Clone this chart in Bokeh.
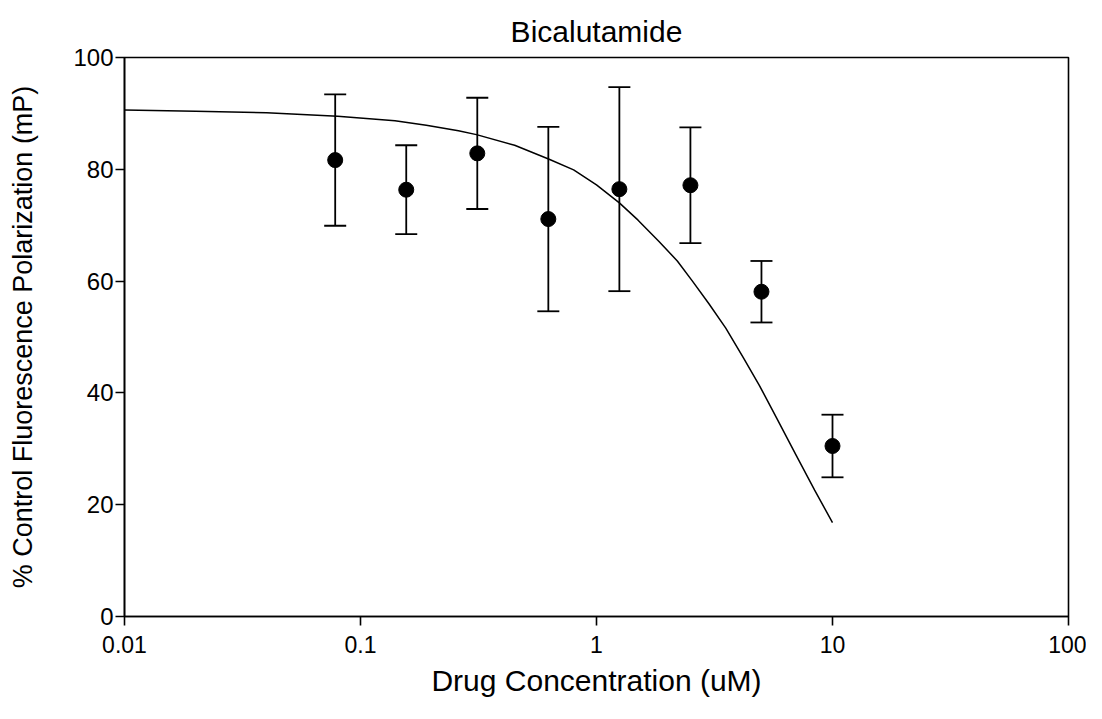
from bokeh.plotting import figure
from bokeh.models import ColumnDataSource, Whisker, TeeHead, FixedTicker, CustomJSTickFormatter, Range1d
from bokeh.embed import file_html
from bokeh.resources import INLINE

# ---- data ----
conc = [0.078125, 0.15625, 0.3125, 0.625, 1.25, 2.5, 5.0, 10.0]
mean_fp = [81.65, 76.35, 82.85, 71.1, 76.45, 77.15, 58.1, 30.5]
sd_fp = [11.75, 7.95, 9.95, 16.5, 18.25, 10.35, 5.5, 5.6]

fit_x = [0.01, 0.02, 0.04, 0.08, 0.14, 0.19, 0.26, 0.31, 0.45, 0.63, 0.8, 1.0,
         1.25, 1.5, 1.84, 2.2, 2.55, 3.0, 3.53, 4.2, 4.89, 5.8, 7.0, 8.4, 10.0]
fit_y = [90.6, 90.4, 90.1, 89.5, 88.7, 87.9, 86.9, 86.2, 84.3, 81.8, 79.9, 77.2,
         74.0, 70.9, 67.1, 63.6, 60.0, 55.9, 51.6, 46.2, 41.4, 35.5, 28.9, 22.6, 16.8]

x_ticks = [0.01, 0.1, 1, 10, 100]
y_ticks = [0, 20, 40, 60, 80, 100]

title_text = "Bicalutamide"
x_label = "Drug Concentration (uM)"
y_label = "% Control Fluorescence Polarization (mP)"

FONT = "Liberation Sans"

p = figure(width=1086, height=703, x_axis_type="log",
           x_range=Range1d(0.01, 100), y_range=Range1d(0, 100),
           output_backend="svg", toolbar_location=None, title=title_text,
           min_border_left=124, min_border_right=18, min_border_top=57, min_border_bottom=87)

p.title.align = "center"
p.title.text_font = FONT
p.title.text_font_size = "30px"
p.title.text_font_style = "normal"
p.title.text_color = "black"
p.title.standoff = 20

p.grid.visible = False
p.outline_line_color = "black"
p.outline_line_width = 1.6
p.outline_line_alpha = 1.0
p.background_fill_color = "white"
p.border_fill_color = "white"

for ax in (p.xaxis[0], p.yaxis[0]):
    ax.axis_line_color = "black"
    ax.axis_line_width = 1.6
    ax.major_tick_line_color = "black"
    ax.major_tick_line_width = 1.6
    ax.major_tick_out = 9
    ax.major_tick_in = 0
    ax.minor_tick_line_color = None
    ax.major_label_text_font = FONT
    ax.major_label_text_color = "black"
    ax.axis_label_text_font = FONT
    ax.axis_label_text_font_style = "normal"
    ax.axis_label_text_color = "black"

p.xaxis.ticker = FixedTicker(ticks=x_ticks)
p.xaxis.formatter = CustomJSTickFormatter(code="return String(tick);")
p.xaxis.axis_label = x_label
p.xaxis.major_label_text_font_size = "23px"
p.xaxis.axis_label_text_font_size = "30px"
p.xaxis.major_label_standoff = 10
p.xaxis.axis_label_standoff = 8

p.yaxis.ticker = FixedTicker(ticks=y_ticks)
p.yaxis.axis_label = y_label
p.yaxis.major_label_text_font_size = "24px"
p.yaxis.axis_label_text_font_size = "27px"
p.yaxis.major_label_standoff = 2
p.yaxis.axis_label_standoff = 32

# fitted curve
p.line(fit_x, fit_y, line_color="black", line_width=1.5)

# error bars
upper = [m + s for m, s in zip(mean_fp, sd_fp)]
lower = [m - s for m, s in zip(mean_fp, sd_fp)]
src = ColumnDataSource(data=dict(x=conc, y=mean_fp, upper=upper, lower=lower))
w = Whisker(source=src, base="x", upper="upper", lower="lower",
            line_color="black", line_width=1.8,
            upper_head=TeeHead(size=22, line_color="black", line_width=1.8),
            lower_head=TeeHead(size=22, line_color="black", line_width=1.8))
p.add_layout(w)

p.scatter("x", "y", source=src, size=15, fill_color="black", line_color="black")

open("out.html", "w").write(file_html(p, INLINE))
